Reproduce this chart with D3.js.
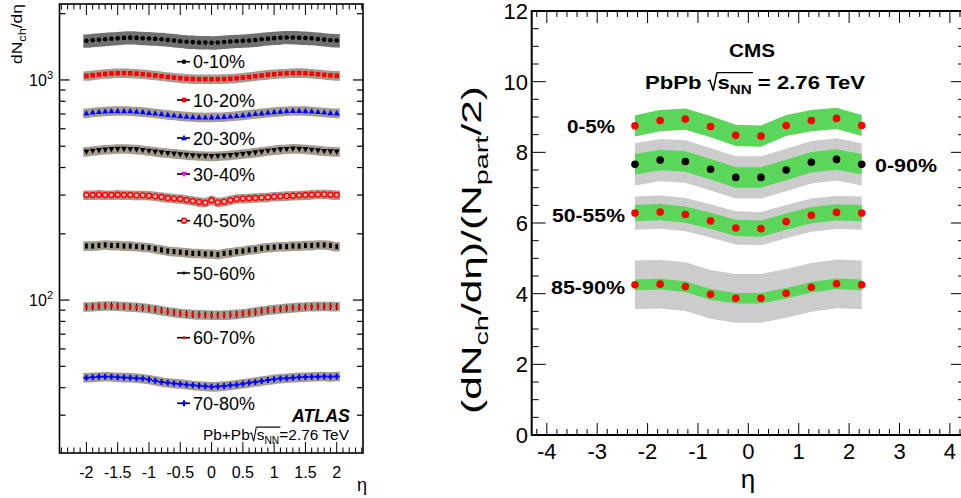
<!DOCTYPE html>
<html>
<head>
<meta charset="utf-8">
<script src="https://cdn.jsdelivr.net/npm/d3@7"></script>
<style>
  body { margin: 0; background: #fff; }
  svg { font-family: "Liberation Sans", Arial, sans-serif; }
</style>
</head>
<body>
<svg id="chart" width="961" height="498"></svg>
<script>
// ---- ATLAS panel data (dN/deta vs eta) ----
const etaAtlas = [-2.0,-1.9,-1.8,-1.7,-1.6,-1.5,-1.4,-1.3,-1.2,-1.1,-1.0,-0.9,-0.8,-0.7,-0.6,-0.5,-0.4,-0.3,-0.2,-0.1,
  0.0,0.1,0.2,0.3,0.4,0.5,0.6,0.7,0.8,0.9,1.0,1.1,1.2,1.3,1.4,1.5,1.6,1.7,1.8,1.9,2.0];

const atlas0010 = [1505,1515,1522,1530,1538,1545,1552,1556,1552,1546,1542,1536,1530,1520,1510,1500,1492,1486,1480,1478,
  1476,1480,1488,1494,1500,1505,1510,1518,1530,1540,1548,1555,1560,1558,1555,1550,1545,1535,1525,1515,1510];
const atlas1020 = [1043,1050,1058,1065,1070,1073,1074,1072,1068,1062,1055,1048,1040,1032,1025,1018,1013,1010,1008,1008,
  1007,1008,1010,1013,1018,1025,1032,1040,1048,1056,1062,1068,1072,1074,1075,1073,1068,1062,1055,1048,1045];
const atlas2030 = [706,712,716,720,722,723,723,722,719,715,710,705,700,695,690,686,682,679,677,676,
  677,678,680,683,687,691,696,701,706,711,715,719,722,724,724,723,720,716,712,708,706];
const atlas3040 = [472,476,479,482,484,486,486,485,483,480,476,472,468,465,462,459,456,454,452,451,
  450,451,453,455,458,461,464,468,472,476,480,483,485,487,486,484,481,478,475,473,472];
const atlas4050 = [300,300,301,300,300,301,300,300,299,299,298,296,294,291,289,288,285,282,279,277,
  284,278,280,284,288,289,290,291,292,293,295,296,297,298,299,300,301,302,302,301,300];
const atlas5060 = [176,176,177,178,177,177,176,176,175,174,173,171,169,167,166,165,164,163,163,162,
  162,161,163,164,166,167,169,170,172,173,174,175,175,176,176,177,177,178,178,177,175];
const atlas6070 = [93.2,93.4,93.8,94.2,94.0,93.8,93.5,93.2,92.8,92.2,91.5,90.6,89.6,88.7,87.8,87.0,86.5,86.0,85.8,85.6,
  85.5,85.4,85.5,85.8,86.2,86.8,87.5,88.3,89.2,90.0,90.6,91.2,91.8,92.3,92.8,93.1,93.3,93.5,93.6,93.5,93.4];
const atlas7080 = [44.4,44.6,44.8,44.9,44.8,44.6,44.5,44.4,44.2,44.0,43.6,43.0,42.5,42.1,41.8,41.6,41.3,41.0,40.8,40.6,
  40.4,40.5,40.7,41.0,41.3,41.7,42.1,42.5,42.9,43.3,43.7,44.0,44.2,44.4,44.6,44.7,44.8,44.9,45.0,44.8,45.0];

const atlasLabels = ["0-10%","10-20%","20-30%","30-40%","40-50%","50-60%","60-70%","70-80%"];
const atlasSysFrac = [0.07, 0.05, 0.05, 0.05, 0.05, 0.05, 0.05, 0.05];

// ---- CMS panel data ((dN/deta)/(Npart/2) vs eta) ----
const etaCms = [-2.25,-1.75,-1.25,-0.75,-0.25,0.25,0.75,1.25,1.75,2.25];
const cms0005 = [8.75,8.90,8.94,8.73,8.48,8.46,8.76,8.90,8.96,8.76];
const cms0090 = [7.66,7.78,7.74,7.52,7.29,7.29,7.50,7.72,7.80,7.66];
const cms5055 = [6.28,6.31,6.24,6.06,5.86,5.84,6.04,6.22,6.30,6.28];
const cms8590 = [4.25,4.27,4.20,3.98,3.87,3.87,4.01,4.18,4.28,4.25];
const cmsLabels = ["0-5%","0-90%","50-55%","85-90%"];
const cmsErrGreen = [0.30, 0.29, 0.23, 0.15];
const cmsErrGray = [0, 0.60, 0.47, 0.69];

const svg = d3.select("#chart");
const NB = "\u00a0";

// rich text: sequence of pieces, optional sqrt sign, scaled to a width
function rich(parent, parts, o) {
  const g = parent.append("g");
  const inner = g.append("g");
  let cx = 0, rootStart = null, rootEnd = null, rootFs = 0;
  parts.forEach(p => {
    if (p.sqrt) {
      const f = p.fs;
      rootStart = cx; rootFs = f;
      inner.append("path")
        .attr("d", `M${cx},${-0.42*f} L${cx+0.1*f},${-0.47*f} L${cx+0.25*f},${0.08*f} L${cx+0.42*f},${-0.86*f}`)
        .attr("fill", "none").attr("stroke", "black").attr("stroke-width", p.sw || 1.2);
      cx += 0.45 * f;
      return;
    }
    const t = inner.append("text")
      .attr("x", cx).attr("y", p.dy || 0)
      .style("font-size", p.fs + "px")
      .style("font-weight", p.fw || "normal")
      .style("font-style", p.it ? "italic" : "normal")
      .attr("fill", "black")
      .text(p.t);
    cx += t.node().getComputedTextLength();
    if (p.over) rootEnd = cx;
  });
  if (rootStart !== null && rootEnd !== null) {
    inner.append("line")
      .attr("x1", rootStart + 0.42*rootFs).attr("x2", rootEnd + 1)
      .attr("y1", -0.86*rootFs).attr("y2", -0.86*rootFs)
      .attr("stroke", "black").attr("stroke-width", 1.2);
  }
  const total = cx;
  const sx = o.width ? o.width / total : 1;
  const off = o.anchor === "end" ? -total : o.anchor === "middle" ? -total / 2 : 0;
  inner.attr("transform", `scale(${sx},1) translate(${off},0)`);
  g.attr("transform", `translate(${o.x},${o.y}) rotate(${o.rotate || 0})`);
  return g;
}

// ================= LEFT PANEL (ATLAS) =================
const L = { left: 59.5, right: 363, top: 4, bottom: 453 };
const xL = d3.scaleLinear().domain([-2.43, 2.42]).range([L.left, L.right]);
const yL = d3.scaleLog().domain([20.2, 2213]).range([L.bottom, L.top]);

const defs = svg.append("defs");
defs.append("filter").attr("id", "soft")
  .append("feGaussianBlur").attr("stdDeviation", 0.6);

const gL = svg.append("g");

const atlasSeries = [
  { v: atlas0010, marker: "circle", color: "black", band: "#6f6f6f" },
  { v: atlas1020, marker: "square", color: "#ff0000", band: "#a59c90" },
  { v: atlas2030, marker: "tri", color: "#0000ff", band: "#a59c90" },
  { v: atlas3040, marker: "tridown", color: "black", band: "#a59c90", leg: "tridown", legColor: "#ff00ff" },
  { v: atlas4050, marker: "ring", color: "#ff0000", band: "#a59c90" },
  { v: atlas5060, marker: "bar", color: "black", band: "#a59c90", leg: "small", legColor: "black" },
  { v: atlas6070, marker: "barred", color: "#ff0000", band: "#a59c90", leg: "small", legColor: "#ff0000" },
  { v: atlas7080, marker: "plus", color: "#0000ff", band: "#a59c90" }
];
const legendY = [61.7, 100, 138, 174, 220.7, 273, 337.7, 403.3];

function drawMarker(g, type, x, y, color) {
  switch (type) {
    case "circle":
      g.append("circle").attr("cx", x).attr("cy", y).attr("r", 2.3).attr("fill", color); break;
    case "square":
      g.append("rect").attr("x", x - 2.3).attr("y", y - 2.3).attr("width", 4.6).attr("height", 4.6).attr("fill", color); break;
    case "tri":
      g.append("path").attr("d", `M${x},${y-3.2} L${x+3},${y+2.2} L${x-3},${y+2.2}Z`).attr("fill", color); break;
    case "tridown":
      g.append("path").attr("d", `M${x},${y+3.2} L${x+3},${y-2.2} L${x-3},${y-2.2}Z`).attr("fill", color); break;
    case "ring":
      g.append("circle").attr("cx", x).attr("cy", y).attr("r", 2.5).attr("fill", "#ffb3b3")
        .attr("stroke", color).attr("stroke-width", 1.4); break;
    case "bar":
      g.append("rect").attr("x", x - 1.4).attr("y", y - 2.6).attr("width", 2.8).attr("height", 5.2).attr("fill", color); break;
    case "barred":
      g.append("line").attr("x1", x).attr("x2", x).attr("y1", y - 3.5).attr("y2", y + 3.5)
        .attr("stroke", "black").attr("stroke-width", 1);
      g.append("rect").attr("x", x - 1.3).attr("y", y - 2).attr("width", 2.6).attr("height", 4).attr("fill", color); break;
    case "plus":
      g.append("path").attr("d", `M${x-3},${y} L${x+3},${y} M${x},${y-3} L${x},${y+3}`)
        .attr("stroke", color).attr("stroke-width", 2); break;
    case "small":
      g.append("rect").attr("x", x - 1.3).attr("y", y - 1.3).attr("width", 2.6).attr("height", 2.6).attr("fill", color); break;
  }
}

// systematic bands
atlasSeries.forEach((s, i) => {
  const pts = s.v.map((v, j) => ({ x: etaAtlas[j], v }));
  const ext = [{ x: etaAtlas[0] - 0.05, v: s.v[0] }, ...pts, { x: etaAtlas[etaAtlas.length - 1] + 0.05, v: s.v[s.v.length - 1] }];
  const f = atlasSysFrac[i];
  const area = d3.area()
    .x(d => xL(d.x))
    .y0(d => yL(d.v * (1 - f)))
    .y1(d => yL(d.v * (1 + f)))
    .curve(d3.curveMonotoneX);
  gL.append("path").attr("d", area(ext)).attr("fill", s.band).attr("filter", "url(#soft)");
});

// points
atlasSeries.forEach(s => {
  s.v.forEach((v, j) => drawMarker(gL, s.marker, xL(etaAtlas[j]), yL(v), s.color));
});

// legend labels
atlasSeries.forEach((s, i) => {
  const y = legendY[i];
  gL.append("line").attr("x1", 177).attr("x2", 190).attr("y1", y).attr("y2", y)
    .attr("stroke", "black").attr("stroke-width", 1.6);
  drawMarker(gL, s.leg || s.marker, 184, y, s.legColor || s.color);
  gL.append("text").attr("x", 193).attr("y", y + 6.5)
    .style("font-size", "18px").text(atlasLabels[i]);
});

// frame + ticks
gL.append("rect").attr("x", L.left).attr("y", L.top)
  .attr("width", L.right - L.left).attr("height", L.bottom - L.top)
  .attr("fill", "none").attr("stroke", "black").attr("stroke-width", 1.6);

const ticksXL = d3.range(-24, 25).map(i => i / 10);
ticksXL.forEach(t => {
  const major = Math.round(t * 10) % 5 === 0;
  const len = major ? 11 : 5.5;
  const x = xL(t);
  gL.append("line").attr("x1", x).attr("x2", x).attr("y1", L.bottom).attr("y2", L.bottom - len)
    .attr("stroke", "black").attr("stroke-width", 1);
  gL.append("line").attr("x1", x).attr("x2", x).attr("y1", L.top).attr("y2", L.top + len)
    .attr("stroke", "black").attr("stroke-width", 1);
});
const xLabelsL = [-2, -1.5, -1, -0.5, 0, 0.5, 1, 1.5, 2];
xLabelsL.forEach(t => {
  gL.append("text").attr("x", xL(t)).attr("y", 478).attr("text-anchor", "middle")
    .style("font-size", "16px").text(String(t));
});
gL.append("text").attr("x", 357).attr("y", 491).style("font-size", "18px").text("η");

[10, 100, 1000].forEach(dec => {
  for (let k = 1; k <= 9; k++) {
    const v = dec * k;
    if (v < 20.2 || v > 2213) continue;
    const y = yL(v);
    const len = k === 1 ? 10 : 6;
    gL.append("line").attr("x1", L.left).attr("x2", L.left + len).attr("y1", y).attr("y2", y)
      .attr("stroke", "black").attr("stroke-width", 1.2);
    gL.append("line").attr("x1", L.right).attr("x2", L.right - len).attr("y1", y).attr("y2", y)
      .attr("stroke", "black").attr("stroke-width", 1.2);
  }
});
[[100, "2"], [1000, "3"]].forEach(([v, e]) => {
  rich(gL, [{ t: "10", fs: 16 }, { t: e, fs: 11, dy: -7 }], { x: 53, y: yL(v) + 6, anchor: "end" });
});

rich(gL, [{ t: "dN", fs: 15 }, { t: "ch", fs: 11, dy: 4 }, { t: "/dη", fs: 15 }],
  { x: 22, y: 4, anchor: "end", rotate: -90, width: 60 });

rich(gL, [{ t: "ATLAS", fs: 18, fw: "bold", it: true }], { x: 350, y: 422, anchor: "end", width: 58 });
rich(gL, [{ t: "Pb+Pb", fs: 15 }, { sqrt: true, fs: 15, sw: 1 }, { t: "s", fs: 15 }, { t: "NN", fs: 10, dy: 4, over: true },
  { t: "=2.76 TeV", fs: 15 }], { x: 349, y: 440, anchor: "end", width: 146 });

// ================= RIGHT PANEL (CMS) =================
const R = { left: 531.7, right: 965, top: 11, bottom: 435 };
const xR = d3.scaleLinear().domain([-4.3, 4.3]).range([R.left, R.right]);
const yR = d3.scaleLinear().domain([0, 12]).range([R.bottom, R.top]);
const gR = svg.append("g");

const cmsSeries = [
  { v: cms0005, color: "#ff0000" },
  { v: cms0090, color: "black" },
  { v: cms5055, color: "#ff0000" },
  { v: cms8590, color: "#ff0000" }
];

function band(vals, err) {
  return d3.area()
    .x((d, j) => xR(etaCms[j]))
    .y0(d => yR(d - err))
    .y1(d => yR(d + err))(vals);
}
cmsSeries.forEach((s, i) => {
  if (cmsErrGray[i] > 0) gR.append("path").attr("d", band(s.v, cmsErrGray[i])).attr("fill", "#cccccc");
});
cmsSeries.forEach((s, i) => {
  gR.append("path").attr("d", band(s.v, cmsErrGreen[i])).attr("fill", "#5ad65a");
});
cmsSeries.forEach(s => {
  s.v.forEach((v, j) => {
    gR.append("circle").attr("cx", xR(etaCms[j])).attr("cy", yR(v)).attr("r", 3.8).attr("fill", s.color);
  });
});

// series labels
const cmsLabelPos = [
  { x: 615, y: 133, anchor: "end", w: 48 },
  { x: 875, y: 172, anchor: "start", w: 62 },
  { x: 625, y: 222, anchor: "end", w: 73 },
  { x: 625, y: 294, anchor: "end", w: 74 }
];
cmsLabels.forEach((lab, i) => {
  const p = cmsLabelPos[i];
  rich(gR, [{ t: lab, fs: 19, fw: "bold" }], { x: p.x, y: p.y, anchor: p.anchor, width: p.w });
});

rich(gR, [{ t: "CMS", fs: 19, fw: "bold" }], { x: 752, y: 57, anchor: "middle", width: 46 });
rich(gR, [{ t: "PbPb" + NB, fs: 19, fw: "bold" }, { sqrt: true, fs: 19, sw: 1.3 }, { t: "s", fs: 19, fw: "bold" },
  { t: "NN", fs: 13, fw: "bold", dy: 5, over: true }, { t: NB + "=" + NB + "2.76 TeV", fs: 19, fw: "bold" }],
  { x: 755, y: 89, anchor: "middle", width: 220 });

// frame + ticks
gR.append("rect").attr("x", R.left).attr("y", R.top)
  .attr("width", R.right - R.left).attr("height", R.bottom - R.top)
  .attr("fill", "none").attr("stroke", "black").attr("stroke-width", 2);

d3.range(-21, 22).map(i => i / 5).forEach(t => {
  const major = Math.abs(t - Math.round(t)) < 1e-6;
  const len = major ? 12 : 6;
  const x = xR(t);
  gR.append("line").attr("x1", x).attr("x2", x).attr("y1", R.bottom).attr("y2", R.bottom - len)
    .attr("stroke", "black").attr("stroke-width", 1);
  gR.append("line").attr("x1", x).attr("x2", x).attr("y1", R.top).attr("y2", R.top + len)
    .attr("stroke", "black").attr("stroke-width", 1);
});
xR.ticks(9).filter(t => t >= -4 && t <= 4).forEach(t => {
  gR.append("text").attr("x", xR(t)).attr("y", 459).attr("text-anchor", "middle")
    .style("font-size", "22px").text(String(t));
});
gR.append("text").attr("x", 748).attr("y", 488).attr("text-anchor", "middle")
  .style("font-size", "26px").text("η");

d3.range(0, 25).map(i => i / 2).forEach(t => {
  const major = t % 2 === 0;
  const len = major ? 14 : 7;
  const y = yR(t);
  gR.append("line").attr("x1", R.left).attr("x2", R.left + len).attr("y1", y).attr("y2", y)
    .attr("stroke", "black").attr("stroke-width", 1);
  gR.append("line").attr("x1", R.right).attr("x2", R.right - len).attr("y1", y).attr("y2", y)
    .attr("stroke", "black").attr("stroke-width", 1);
});
[0, 2, 4, 6, 8, 10, 12].forEach(t => {
  gR.append("text").attr("x", 528).attr("y", yR(t) + 8).attr("text-anchor", "end")
    .style("font-size", "22px").text(String(t));
});

rich(gR, [{ t: "(dN", fs: 28 }, { t: "ch", fs: 19, dy: 7 }, { t: "/dη)/(N", fs: 28 }, { t: "part", fs: 19, dy: 7 },
  { t: "/2)", fs: 28 }], { x: 481, y: 250, anchor: "middle", rotate: -90, width: 328 });
</script>
</body>
</html>
